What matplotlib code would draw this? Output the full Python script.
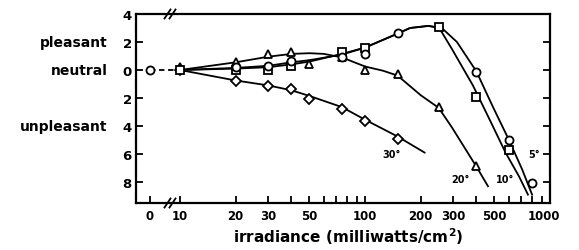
import matplotlib
matplotlib.use("Agg")
import matplotlib.pyplot as plt
import matplotlib.transforms as mtransforms

# measured points (irradiance mW/cm^2, rating: + pleasant, - unpleasant)
circle_x = [0, 20, 30, 40, 75, 100, 150, 400, 600, 800]
circle_y = [0, 0.2, 0.3, 0.65, 0.9, 1.15, 2.65, -0.15, -5.0, -8.1]
square_x = [10, 20, 30, 40, 75, 100, 250, 400, 600]
square_y = [0, 0.0, 0.0, 0.3, 1.3, 1.6, 3.1, -1.9, -5.7]
triangle_x = [10, 20, 30, 40, 50, 75, 100, 150, 250, 400]
triangle_y = [0.25, 0.6, 1.15, 1.3, 0.45, 0.9, 0.0, -0.3, -2.65, -6.85]
diamond_x = [10, 20, 30, 40, 50, 75, 100, 150]
diamond_y = [0, -0.8, -1.15, -1.35, -2.05, -2.8, -3.65, -4.9]

# fitted curves
fit5_x = [10, 20, 30, 40, 50, 75, 100, 150, 175, 220, 260, 314, 400, 490, 600, 707, 800]
fit5_y = [0, 0.15, 0.3, 0.55, 0.7, 1.1, 1.6, 2.6, 3.0, 3.15, 3.0, 2.0, -0.1, -2.6, -5.0, -7.1, -8.9]
fit10_x = [10, 20, 30, 40, 50, 75, 100, 150, 175, 220, 252, 295, 383, 470, 575, 680, 760]
fit10_y = [0, 0.1, 0.2, 0.4, 0.6, 1.15, 1.6, 2.6, 3.0, 3.15, 3.0, 1.5, -1.1, -3.5, -5.9, -7.6, -8.9]
fit20_x = [10, 20, 30, 40, 50, 60, 75, 100, 125, 150, 200, 250, 295, 400, 462]
fit20_y = [0, 0.55, 0.95, 1.15, 1.2, 1.15, 0.9, 0.25, -0.05, -0.4, -1.8, -2.7, -4.1, -6.9, -8.3]
fit30_x = [10, 20, 30, 40, 50, 75, 100, 150, 210]
fit30_y = [0, -0.75, -1.1, -1.45, -1.85, -2.65, -3.55, -4.75, -5.9]

curve_labels = ["5°", "10°", "20°", "30°"]
label_pos = [(820, -6.0), (571, -7.8), (330, -7.8), (140, -6.0)]

y_ticks = [4, 2, 0, -2, -4, -6, -8]
y_ticklabels = ["4", "2", "0", "2", "4", "6", "8"]
x_major = [10, 20, 30, 50, 100, 200, 300, 500, 1000]
x_minor = [40, 60, 70, 80, 90, 400, 600, 700, 800, 900]
ratings = [("pleasant", 2), ("neutral", 0), ("unpleasant", -4)]

ZERO_POS = 6.88  # where "0" sits on the broken log axis


def xpos(values):
    return [ZERO_POS if v == 0 else v for v in values]


plt.rcParams["font.family"] = "DejaVu Sans"
plt.rcParams["font.weight"] = "bold"

fig = plt.figure(figsize=(5.79, 2.51), dpi=100)
ax = fig.add_axes([136 / 579, 1 - 204 / 251, 414 / 579, 189 / 251])
ax.set_xscale("log")

lw = 1.3
for fx, fy in [(fit5_x, fit5_y), (fit10_x, fit10_y), (fit20_x, fit20_y), (fit30_x, fit30_y)]:
    ax.plot(fx, fy, color="black", lw=lw, zorder=2)
ax.plot([ZERO_POS, 10], [0, 0], color="black", lw=lw, ls=(0, (3, 2)), zorder=2)

mk = dict(ls="none", mfc="white", mec="black", mew=1.3, zorder=3)
ax.plot(xpos(diamond_x), diamond_y, marker="D", ms=5, **mk)
ax.plot(xpos(triangle_x), triangle_y, marker="^", ms=6.2, **mk)
ax.plot(xpos(square_x), square_y, marker="s", ms=5.3, **mk)
ax.plot(xpos(circle_x), circle_y, marker="o", ms=5.8, **mk)

for text, (lx, ly) in zip(curve_labels, label_pos):
    ax.text(lx, ly, text, fontsize=7, fontweight="bold", ha="center", va="center")

ax.set_xlim(5.78, 1000)
ax.set_ylim(-9.5, 4)

ax.set_xticks([ZERO_POS] + x_major)
ax.set_xticklabels(["0"] + [str(v) for v in x_major])
ax.set_xticks(x_minor, minor=True)
ax.set_xticklabels([], minor=True)
ax.set_yticks(y_ticks)
ax.set_yticklabels(y_ticklabels)

ax.tick_params(axis="both", which="both", direction="in", length=5, width=1.3,
               top=False, right=True)
ax.tick_params(axis="x", pad=4, labelsize=8.5)
ax.tick_params(axis="y", pad=3, labelsize=9.5)
for s in ax.spines.values():
    s.set_linewidth(1.6)

# last label sits a little left of its tick in the original
last = ax.get_xticklabels()[-1]
last.set_transform(last.get_transform() + mtransforms.ScaledTranslation(-6 / 100, 0, fig.dpi_scale_trans))

trans = mtransforms.blended_transform_factory(ax.transAxes, ax.transData)
for name, yv in ratings:
    ax.text(-0.068, yv, name, transform=trans, ha="right", va="center",
            fontsize=10, fontweight="bold")

# axis break marks
bx = (170 - 136) / 414
dx, dy = 3 / 414, 4.5 / 189
for yb in (0, 1):
    for off in (-2.5 / 414, 2.5 / 414):
        ax.plot([bx + off - dx, bx + off + dx], [yb - dy, yb + dy],
                transform=ax.transAxes, color="black", lw=1.3, clip_on=False)

fig.text(348 / 579, 1 - 237 / 251, r"irradiance (milliwatts/cm$^{\mathbf{2}}$)",
         ha="center", va="center", fontsize=11, fontweight="bold")

fig.savefig("out.png", dpi=100)
